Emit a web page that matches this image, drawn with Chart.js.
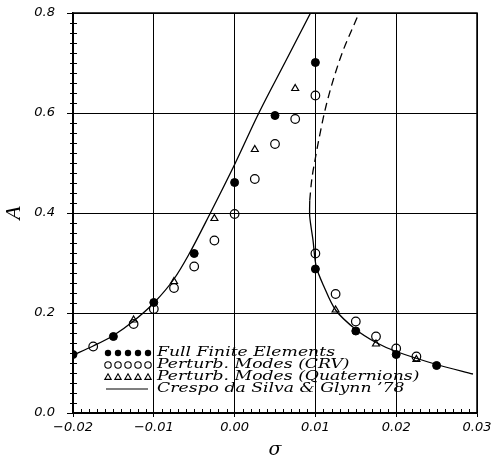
<!DOCTYPE html>
<html>
<head>
<meta charset="utf-8">
<script src="https://cdn.jsdelivr.net/npm/chart.js@4/dist/chart.umd.min.js"></script>
<style>
  html, body { margin: 0; padding: 0; background: #fff; }
  canvas { display: block; }
</style>
</head>
<body>
<canvas id="chart" width="491" height="461"></canvas>
<script>
// Full finite elements (filled circles)
const feX = [-0.02, -0.015, -0.01, -0.005, 0.0, 0.005, 0.01, 0.01, 0.015, 0.02, 0.025];
const feY = [0.117, 0.153, 0.221, 0.319, 0.461, 0.595, 0.701, 0.288, 0.164, 0.117, 0.095];

// Perturbation modes, CRV (open circles)
const crvX = [-0.0175, -0.0125, -0.01, -0.0075, -0.005, -0.0025, 0.0, 0.0025, 0.005, 0.0075, 0.01, 0.01, 0.0125, 0.015, 0.0175, 0.02, 0.0225];
const crvY = [0.133, 0.178, 0.208, 0.250, 0.293, 0.345, 0.398, 0.468, 0.538, 0.588, 0.635, 0.319, 0.238, 0.183, 0.153, 0.129, 0.113];

// Perturbation modes, quaternions (open triangles)
const quatX = [-0.0125, -0.0075, -0.0025, 0.0025, 0.0075, 0.0125, 0.0175, 0.0225];
const quatY = [0.186, 0.263, 0.389, 0.527, 0.649, 0.206, 0.138, 0.107];

// Crespo da Silva & Glynn '78 - left branch, right stable branch, right dashed branch
const leftX = [-0.02, -0.0175, -0.015, -0.0125, -0.01, -0.0075, -0.0057, -0.003, 0.0, 0.003, 0.0062, 0.0094];
const leftY = [0.116, 0.134, 0.155, 0.184, 0.22, 0.268, 0.316, 0.40, 0.497, 0.6, 0.7, 0.8];
const rightX = [0.0093, 0.0093, 0.0097, 0.0101, 0.011, 0.0125, 0.015, 0.0175, 0.02, 0.025, 0.0295];
const rightY = [0.425, 0.393, 0.346, 0.293, 0.255, 0.206, 0.167, 0.141, 0.123, 0.097, 0.078];
const dashX = [0.0093, 0.0095, 0.0100, 0.0105, 0.0113, 0.0130, 0.0154];
const dashY = [0.425, 0.46, 0.51, 0.553, 0.613, 0.706, 0.8];

// Axis ticks
const xTicks = [-0.02, -0.01, 0.0, 0.01, 0.02, 0.03];
const yTicks = [0.0, 0.2, 0.4, 0.6, 0.8];

const legendLabels = [
  'Full Finite Elements',
  'Perturb. Modes (CRV)',
  'Perturb. Modes (Quaternions)',
  'Crespo da Silva & Glynn \u201978'
];

const pts = (xs, ys) => xs.map((x, i) => ({ x: x, y: ys[i] }));
const tickFont = { family: "'DejaVu Sans'", size: 13, style: 'italic' };

// frame, minor ticks and the legend
const decorations = {
  id: 'decorations',
  afterDraw(chart) {
    const ctx = chart.ctx;
    const a = chart.chartArea;
    const xs = chart.scales.x, ys = chart.scales.y;
    ctx.save();
    ctx.strokeStyle = '#000';
    ctx.lineWidth = 1.5;
    ctx.strokeRect(a.left, a.top, a.right - a.left, a.bottom - a.top);

    ctx.lineWidth = 1;
    ctx.beginPath();
    for (let i = 0; i <= 50; i++) {
      if (i % 10 === 0) continue;
      const px = Math.round(xs.getPixelForValue(-0.02 + i * 0.001)) + 0.5;
      ctx.moveTo(px, a.bottom);
      ctx.lineTo(px, a.bottom - 4);
    }
    for (let i = 0; i <= 40; i++) {
      const py = Math.round(ys.getPixelForValue(i * 0.02)) + 0.5;
      if (i % 10 === 0) {
        ctx.moveTo(a.left - 6, py);
        ctx.lineTo(a.left, py);
      } else {
        ctx.moveTo(a.left - 3, py);
        ctx.lineTo(a.left + 4, py);
      }
    }
    ctx.stroke();

    // legend
    const rowY = [353, 365, 377, 389];
    const mx = [108, 118, 128, 138, 148];
    ctx.lineWidth = 1.1;
    ctx.font = "italic 12.5px 'DejaVu Serif'";
    const sx = 178 / ctx.measureText(legendLabels[0]).width;
    rowY.forEach((y, r) => {
      mx.forEach(x => {
        if (r === 0) {
          ctx.beginPath(); ctx.arc(x, y, 3.2, 0, Math.PI * 2); ctx.fillStyle = '#000'; ctx.fill();
        } else if (r === 1) {
          ctx.beginPath(); ctx.arc(x, y, 3.2, 0, Math.PI * 2); ctx.stroke();
        } else if (r === 2) {
          ctx.beginPath(); ctx.moveTo(x, y - 3.2); ctx.lineTo(x + 3.2, y + 2.4); ctx.lineTo(x - 3.2, y + 2.4); ctx.closePath(); ctx.stroke();
        }
      });
      if (r === 3) {
        ctx.beginPath(); ctx.moveTo(106, y); ctx.lineTo(148, y); ctx.stroke();
      }
      ctx.save();
      ctx.fillStyle = '#000';
      ctx.textBaseline = 'middle';
      ctx.textAlign = 'left';
      ctx.translate(157, y);
      ctx.scale(sx, 1);
      ctx.fillText(legendLabels[r], 0, 0);
      ctx.restore();
    });
    ctx.restore();
  }
};

new Chart(document.getElementById('chart'), {
  type: 'scatter',
  data: {
    datasets: [
      {
        label: legendLabels[0],
        data: pts(feX, feY),
        pointStyle: 'circle',
        pointRadius: 4,
        backgroundColor: '#000',
        borderColor: '#000',
        borderWidth: 1
      },
      {
        label: legendLabels[1],
        data: pts(crvX, crvY),
        pointStyle: 'circle',
        pointRadius: 4.3,
        backgroundColor: 'rgba(0,0,0,0)',
        borderColor: '#000',
        borderWidth: 1.2
      },
      {
        label: legendLabels[2],
        data: pts(quatX, quatY),
        pointStyle: 'triangle',
        pointRadius: 4,
        backgroundColor: 'rgba(0,0,0,0)',
        borderColor: '#000',
        borderWidth: 1.2
      },
      {
        label: legendLabels[3],
        data: pts(leftX, leftY),
        showLine: true,
        pointRadius: 0,
        borderColor: '#000',
        borderWidth: 1.3,
        cubicInterpolationMode: 'monotone'
      },
      {
        label: legendLabels[3] + ' (stable)',
        data: pts(rightX, rightY),
        showLine: true,
        pointRadius: 0,
        borderColor: '#000',
        borderWidth: 1.3,
        tension: 0.3
      },
      {
        label: legendLabels[3] + ' (unstable)',
        data: pts(dashX, dashY),
        showLine: true,
        pointRadius: 0,
        borderColor: '#000',
        borderWidth: 1.3,
        borderDash: [8, 5],
        cubicInterpolationMode: 'monotone'
      }
    ]
  },
  options: {
    responsive: false,
    animation: false,
    layout: { padding: { top: 13, right: 14, left: 0, bottom: 0 } },
    plugins: {
      legend: { display: false },
      tooltip: { enabled: false }
    },
    scales: {
      x: {
        type: 'linear',
        min: -0.02,
        max: 0.03,
        afterFit: s => { s.height = 48; s.paddingLeft = 0; s.paddingRight = 0; },
        afterBuildTicks: s => { s.ticks = xTicks.map(v => ({ value: v })); },
        ticks: {
          color: '#000',
          font: tickFont,
          padding: 3,
          maxRotation: 0,
          callback: v => v.toFixed(2).replace('-', '\u2212')
        },
        grid: { color: '#000', lineWidth: 1, tickLength: 4 },
        border: { color: '#000', width: 1.5 },
        title: {
          display: true,
          text: '\u03c3',
          color: '#000',
          font: { family: "'DejaVu Serif'", size: 19, style: 'italic' },
          padding: 0
        }
      },
      y: {
        min: 0,
        max: 0.8,
        afterFit: s => { s.width = 73; s.paddingTop = 0; s.paddingBottom = 0; },
        afterBuildTicks: s => { s.ticks = yTicks.map(v => ({ value: v })); },
        ticks: {
          color: '#000',
          font: tickFont,
          padding: 2,
          callback: v => v.toFixed(1)
        },
        grid: { color: '#000', lineWidth: 1, tickLength: 16, tickColor: 'rgba(0,0,0,0)' },
        border: { color: '#000', width: 1.5 },
        title: {
          display: true,
          text: 'A',
          color: '#000',
          font: { family: "'Liberation Serif'", size: 22, style: 'italic' },
          padding: { top: 1, bottom: 0 }
        }
      }
    }
  },
  plugins: [decorations]
});
</script>
</body>
</html>
